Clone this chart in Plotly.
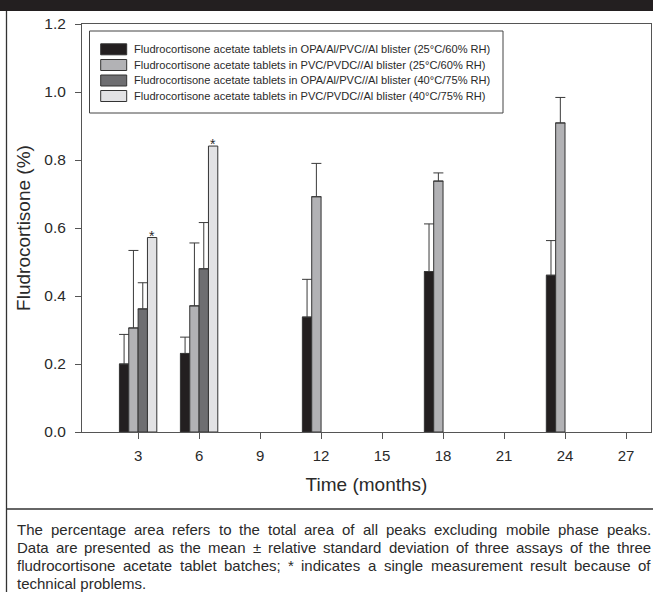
import plotly.graph_objects as go

# ---------------- data ----------------
months = [3, 6, 12, 18, 24]
series_names = [
    "Fludrocortisone acetate tablets in OPA/Al/PVC//Al blister (25°C/60% RH)",
    "Fludrocortisone acetate tablets in PVC/PVDC//Al blister (25°C/60% RH)",
    "Fludrocortisone acetate tablets in OPA/Al/PVC//Al blister (40°C/75% RH)",
    "Fludrocortisone acetate tablets in PVC/PVDC//Al blister (40°C/75% RH)",
]
opa_25 = [0.200, 0.231, 0.338, 0.472, 0.461]
opa_25_err = [0.087, 0.048, 0.111, 0.140, 0.102]
pvc_25 = [0.306, 0.371, 0.692, 0.738, 0.909]
pvc_25_err = [0.228, 0.185, 0.098, 0.024, 0.075]
opa_40 = [0.362, 0.480, None, None, None]
opa_40_err = [0.077, 0.136, None, None, None]
pvc_40 = [0.572, 0.841, None, None, None]
pvc_40_marks = ["*", "*", "", "", ""]

x_ticks = [3, 6, 9, 12, 15, 18, 21, 24, 27]
y_ticks = [0.0, 0.2, 0.4, 0.6, 0.8, 1.0, 1.2]

caption_lines = [
    "The percentage area refers to the total area of all peaks excluding mobile phase peaks.",
    "Data are presented as the mean ± relative standard deviation of three assays of the three",
    "fludrocortisone acetate tablet batches; * indicates a single measurement result because of",
    "technical problems.",
]

# ---------------- style ----------------
colors = ["#231f20", "#b2b2b5", "#6e6e71", "#e2e2e4"]
edge = "#333333"
axis_col = "#555555"
txt_col = "#2a2a2a"
FONT = "Liberation Sans, Arial, sans-serif"

W_FIG, H_FIG = 653, 592
ML, MR, MT, MB = 82, 2, 24, 160
PW = W_FIG - ML - MR
PH = H_FIG - MT - MB
BARGAP = 0.387


def px_x(px):
    return (px - ML) / PW


def px_y(py):
    return (H_FIG - MB - py) / PH


fig = go.Figure()

values = [opa_25, pvc_25, opa_40, pvc_40]
errors = [opa_25_err, pvc_25_err, opa_40_err, None]
for i in range(4):
    kw = {}
    if errors[i] is not None:
        kw["error_y"] = dict(
            type="data", symmetric=False, array=errors[i],
            arrayminus=[0] * len(months), color="#3a3a3a", thickness=1, width=5,
        )
    fig.add_trace(go.Bar(
        x=months, y=values[i], name=series_names[i],
        marker=dict(color=colors[i], line=dict(color=edge, width=1)),
        showlegend=False, **kw,
    ))

fig.update_layout(
    width=W_FIG, height=H_FIG,
    margin=dict(l=ML, r=MR, t=MT, b=MB, pad=0),
    paper_bgcolor="white", plot_bgcolor="white",
    barmode="group", bargap=BARGAP, bargroupgap=0,
    font=dict(family=FONT, color=txt_col),
)

fig.update_xaxes(
    range=[0.24, 28.23], tickvals=x_ticks, ticktext=[str(v) for v in x_ticks],
    showline=True, linecolor=axis_col, linewidth=1, mirror=True,
    ticks="outside", ticklen=6, tickcolor=axis_col, tickwidth=1,
    showgrid=False, zeroline=False,
    tickfont=dict(size=15, color=txt_col), ticklabelstandoff=4,
    title=dict(text="Time (months)", font=dict(size=19, color=txt_col), standoff=14),
)
fig.update_yaxes(
    range=[0, 1.2], tickvals=y_ticks, ticktext=[f"{v:.1f}" for v in y_ticks],
    showline=True, linecolor=axis_col, linewidth=1, mirror=True,
    ticks="outside", ticklen=6, tickcolor=axis_col, tickwidth=1,
    showgrid=False, zeroline=False,
    tickfont=dict(size=15.5, color=txt_col), ticklabelstandoff=6,
    title=dict(text="Fludrocortisone (%)", font=dict(size=19, color=txt_col), standoff=8),
)

shapes = []
annotations = []

# asterisks above the single-measurement bars (4th bar of each group)
bar_w = 3 * (1 - BARGAP) / 4
for m, v, mark in zip(months, pvc_40, pvc_40_marks):
    if v is not None and mark:
        annotations.append(dict(x=m + 1.5 * bar_w, y=v, xref="x", yref="y", text=mark,
                                showarrow=False, xanchor="center", yanchor="bottom",
                                yshift=-7, borderpad=0,
                                font=dict(family=FONT, size=14, color=txt_col)))

# top black banner
shapes.append(dict(type="rect", xref="paper", yref="paper",
                   x0=px_x(0), x1=px_x(W_FIG), y0=px_y(11), y1=px_y(0),
                   fillcolor="#231f20", line=dict(width=0), layer="above"))
# frame left border and caption separator
shapes.append(dict(type="line", xref="paper", yref="paper",
                   x0=px_x(6.5), x1=px_x(6.5), y0=px_y(11), y1=px_y(H_FIG),
                   line=dict(color="#333", width=1.3)))
shapes.append(dict(type="line", xref="paper", yref="paper",
                   x0=px_x(6), x1=px_x(W_FIG), y0=px_y(509), y1=px_y(509),
                   line=dict(color="#333", width=1.3)))

# legend (manual)
LX0, LX1, LY0, LY1 = 89.5, 503, 31, 113
shapes.append(dict(type="rect", xref="paper", yref="paper",
                   x0=px_x(LX0), x1=px_x(LX1), y0=px_y(LY1), y1=px_y(LY0),
                   line=dict(color="#444", width=1), fillcolor="white", layer="above"))
row_y = [49.3, 65, 80.5, 96]
for i, name in enumerate(series_names):
    shapes.append(dict(type="rect", xref="paper", yref="paper",
                       x0=px_x(100.7), x1=px_x(126.7),
                       y0=px_y(row_y[i] + 5.5), y1=px_y(row_y[i] - 5.5),
                       fillcolor=colors[i], line=dict(color=edge, width=1), layer="above"))
    annotations.append(dict(xref="paper", yref="paper", x=px_x(133), y=px_y(row_y[i]),
                            text=name, showarrow=False, xanchor="left", yanchor="middle",
                            borderpad=0, font=dict(family=FONT, size=11.1, color=txt_col)))

# caption (justified)
AW = {" ": 278, ".": 278, ",": 278, ";": 278, "*": 389, "±": 584,
      "T": 611, "D": 722,
      "a": 556, "b": 556, "c": 500, "d": 556, "e": 556, "f": 278, "g": 556, "h": 556,
      "i": 222, "j": 222, "k": 500, "l": 222, "m": 833, "n": 556, "o": 556, "p": 556,
      "q": 556, "r": 333, "s": 500, "t": 278, "u": 556, "v": 500, "w": 722, "x": 500,
      "y": 500, "z": 500}
CFS = 15
CX0, CX1 = 16, 650
cap_y = [529.3, 547.3, 565.2, 583.3]


def tw(s):
    return sum(AW.get(c, 556) for c in s) / 1000 * CFS


for li, line in enumerate(caption_lines):
    if li < 3:
        words = line.split(" ")
        total = sum(tw(w) for w in words)
        gap = (CX1 - CX0 - total) / (len(words) - 1)
        x = CX0
        for w in words:
            annotations.append(dict(xref="paper", yref="paper", x=px_x(x), y=px_y(cap_y[li]),
                                    text=w, showarrow=False, xanchor="left", yanchor="middle",
                                    borderpad=0, font=dict(family=FONT, size=CFS, color=txt_col)))
            x += tw(w) + gap
    else:
        annotations.append(dict(xref="paper", yref="paper", x=px_x(CX0), y=px_y(cap_y[li]),
                                text=line, showarrow=False, xanchor="left", yanchor="middle",
                                borderpad=0, font=dict(family=FONT, size=CFS, color=txt_col)))

fig.update_layout(shapes=shapes, annotations=annotations)
fig.write_html("out.html")
